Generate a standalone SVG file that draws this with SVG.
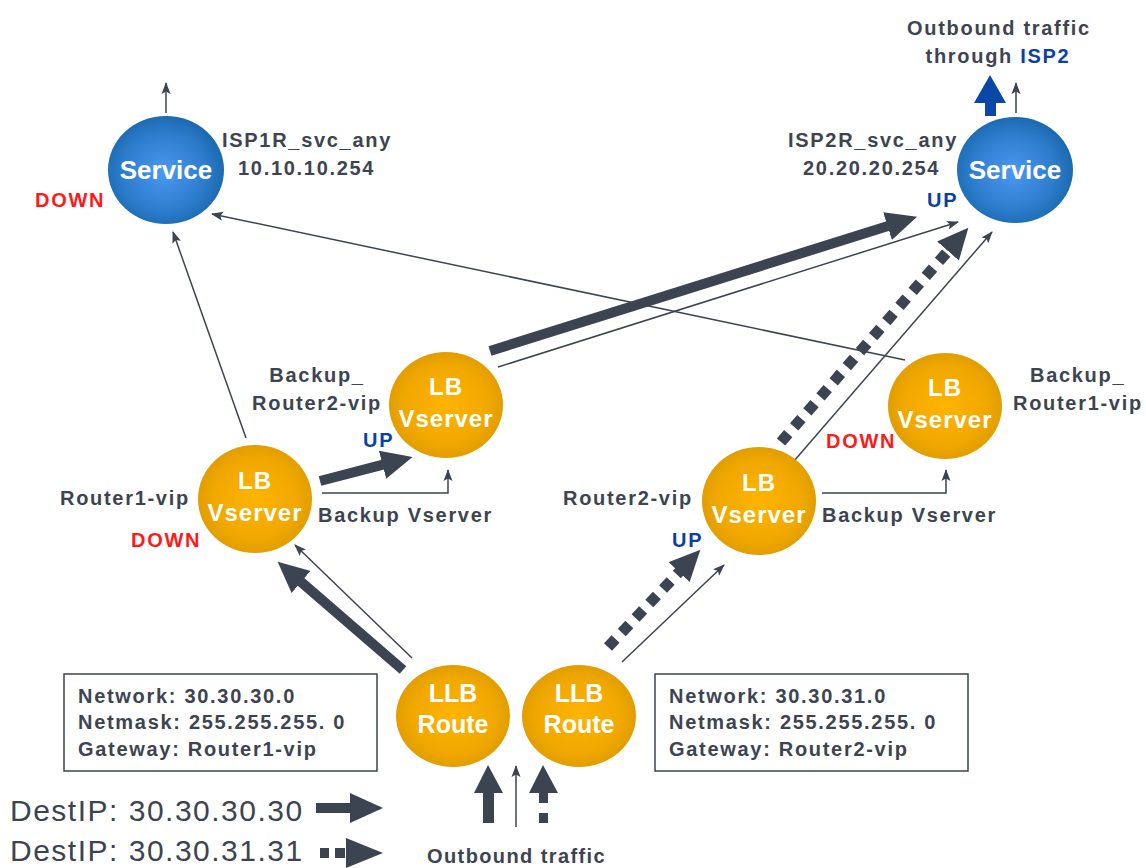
<svg xmlns="http://www.w3.org/2000/svg" width="1146" height="868" viewBox="0 0 1146 868">
<defs>
<radialGradient id="gOr" cx="50%" cy="50%" r="50%">
<stop offset="0" stop-color="#ffb400"/>
<stop offset="0.75" stop-color="#f0a700"/>
<stop offset="1" stop-color="#e19e00"/>
</radialGradient>
<radialGradient id="gBl" cx="48%" cy="52%" r="52%">
<stop offset="0" stop-color="#4c98f2"/>
<stop offset="0.7" stop-color="#2c7ccc"/>
<stop offset="1" stop-color="#1b6ab0"/>
</radialGradient>
<marker id="ah" markerUnits="userSpaceOnUse" markerWidth="12" markerHeight="10" viewBox="0 0 12 10" refX="11" refY="5" orient="auto">
<path d="M0,0.5 L12,5 L0,9.5 L2.5,5 z" fill="#3d4451"/>
</marker>
<marker id="big" markerUnits="userSpaceOnUse" markerWidth="31" markerHeight="29" viewBox="0 0 31 29" refX="0.5" refY="14.5" orient="auto">
<path d="M0,0 L31,14.5 L0,29 z" fill="#3d4451"/>
</marker>
<style>
.lbl{font-family:"Liberation Sans",Arial,sans-serif;font-weight:bold;font-size:20px;letter-spacing:1.7px;fill:#3d4451}
.up{fill:#0c3fa3}
.down{fill:#ff1a1a}
.nt{font-family:"Liberation Sans",Arial,sans-serif;font-weight:bold;fill:#ffffff;text-anchor:middle}
.vs{font-size:24px;letter-spacing:1px}
.sv{font-size:26px}
.ll{font-size:25px}
.thin{stroke:#3d4451;stroke-width:1.5;fill:none;marker-end:url(#ah)}
.thick{stroke:#3d4451;stroke-width:10;fill:none;marker-end:url(#big)}
.dash{stroke:#3d4451;stroke-width:11;fill:none;stroke-dasharray:11 9;marker-end:url(#big)}
.orn{fill:url(#gOr)}
.blu{fill:url(#gBl)}
.box{fill:#ffffff;stroke:#3d4451;stroke-width:1.5}
.dark{fill:#3d4451}
.leg{font-family:"Liberation Sans",Arial,sans-serif;font-size:30px;letter-spacing:1.5px;fill:#3d4451}
</style>
</defs>
<rect width="1146" height="868" fill="#ffffff"/>

<g id="connectors">
<line class="thin" x1="166" y1="113" x2="166" y2="83"/>
<line class="thin" x1="1016" y1="113" x2="1016" y2="83"/>
<polygon points="990,75 1006,103 996,103 996,116 985,116 985,103 974,103" fill="#0a48a8"/>
<line class="thin" x1="246" y1="438" x2="173" y2="232"/>
<line class="thin" x1="905" y1="360" x2="212" y2="214"/>
<line class="thick" x1="490" y1="351" x2="888" y2="226"/>
<line class="thin" x1="498" y1="367" x2="958" y2="222"/>
<line class="dash" x1="781" y1="442" x2="948.3" y2="250.6"/>
<line class="thin" x1="794" y1="461" x2="992" y2="232"/>
<line class="thick" x1="320" y1="481" x2="383" y2="464.6"/>
<path class="thin" d="M322,493 H448 V470"/>
<path class="thin" d="M822,493 H946 V470"/>
<line class="thick" x1="403" y1="670" x2="300.7" y2="581.6"/>
<line class="thin" x1="412" y1="658" x2="295" y2="545"/>
<line class="dash" x1="608" y1="647" x2="679.4" y2="571.8"/>
<line class="thin" x1="622" y1="662" x2="724" y2="565"/>
<polygon points="488,765 503,793 494,793 494,823 483,823 483,793 474,793" class="dark"/>
<line class="thin" x1="516" y1="827" x2="516" y2="766"/>
<polygon points="543,765 558,793 548,793 548,803 539,803 539,793 529,793" class="dark"/>
<rect x="539" y="813" width="9" height="10" class="dark"/>
</g>

<g id="service1">
<ellipse class="blu" cx="166" cy="170" rx="58" ry="54"/>
<text class="nt sv" x="166" y="179">Service</text>
<text class="lbl" x="222" y="147">ISP1R_svc_any</text>
<text class="lbl" x="238" y="175">10.10.10.254</text>
<text class="lbl down" x="35" y="207">DOWN</text>
</g>

<g id="service2">
<ellipse class="blu" cx="1015" cy="170" rx="58" ry="53"/>
<text class="nt sv" x="1015" y="179">Service</text>
<text class="lbl" x="788" y="147">ISP2R_svc_any</text>
<text class="lbl" x="803" y="175">20.20.20.254</text>
<text class="lbl up" x="927" y="207">UP</text>
<text class="lbl" x="999" y="35" text-anchor="middle">Outbound traffic</text>
<text class="lbl" x="998" y="63" text-anchor="middle">through <tspan class="up">ISP2</tspan></text>
</g>

<g id="backup-router2-vip">
<ellipse class="orn" cx="446" cy="405" rx="57" ry="53"/>
<text class="nt vs" x="446" y="395">LB</text>
<text class="nt vs" x="446" y="427">Vserver</text>
<text class="lbl" x="317" y="382" text-anchor="middle">Backup_</text>
<text class="lbl" x="317" y="410" text-anchor="middle">Router2-vip</text>
<text class="lbl up" x="363" y="447">UP</text>
</g>

<g id="router1-vip">
<ellipse class="orn" cx="255" cy="499" rx="57" ry="54"/>
<text class="nt vs" x="255" y="489">LB</text>
<text class="nt vs" x="255" y="521">Vserver</text>
<text class="lbl" x="60" y="505">Router1-vip</text>
<text class="lbl down" x="131" y="547">DOWN</text>
<text class="lbl" x="318" y="522">Backup Vserver</text>
</g>

<g id="router2-vip">
<ellipse class="orn" cx="759" cy="501" rx="57" ry="54"/>
<text class="nt vs" x="759" y="491">LB</text>
<text class="nt vs" x="759" y="523">Vserver</text>
<text class="lbl" x="563" y="505">Router2-vip</text>
<text class="lbl up" x="672" y="547">UP</text>
<text class="lbl" x="822" y="522">Backup Vserver</text>
</g>

<g id="backup-router1-vip">
<ellipse class="orn" cx="945" cy="406" rx="57" ry="53"/>
<text class="nt vs" x="945" y="396">LB</text>
<text class="nt vs" x="945" y="428">Vserver</text>
<text class="lbl" x="1030" y="382">Backup_</text>
<text class="lbl" x="1013" y="410">Router1-vip</text>
<text class="lbl down" x="826" y="448">DOWN</text>
</g>

<g id="llb-route1">
<ellipse class="orn" cx="453" cy="716" rx="57" ry="51"/>
<text class="nt ll" x="453" y="702">LLB</text>
<text class="nt ll" x="453" y="733">Route</text>
</g>

<g id="llb-route2">
<ellipse class="orn" cx="579" cy="716" rx="57" ry="51"/>
<text class="nt ll" x="579" y="702">LLB</text>
<text class="nt ll" x="579" y="733">Route</text>
</g>

<g id="route-box1">
<rect class="box" x="64" y="674" width="313" height="97"/>
<text class="lbl" x="78" y="703">Network: 30.30.30.0</text>
<text class="lbl" x="78" y="729">Netmask: 255.255.255. 0</text>
<text class="lbl" x="78" y="756">Gateway: Router1-vip</text>
</g>

<g id="route-box2">
<rect class="box" x="655" y="674" width="313" height="97"/>
<text class="lbl" x="669" y="703">Network: 30.30.31.0</text>
<text class="lbl" x="669" y="729">Netmask: 255.255.255. 0</text>
<text class="lbl" x="669" y="756">Gateway: Router2-vip</text>
</g>

<g id="outbound-label">
<text class="lbl" x="427" y="863" style="letter-spacing:1.4px">Outbound traffic</text>
</g>

<g id="legend">
<text class="leg" x="10" y="821">DestIP: 30.30.30.30</text>
<rect x="316" y="803" width="36" height="10" class="dark"/>
<polygon points="350,793 383,808 350,823" class="dark"/>
<text class="leg" x="10" y="861">DestIP: 30.30.31.31</text>
<rect x="320" y="848" width="9" height="10" class="dark"/>
<rect x="335" y="848" width="10" height="10" class="dark"/>
<polygon points="346,838 383,853 346,868" class="dark"/>
</g>
</svg>
